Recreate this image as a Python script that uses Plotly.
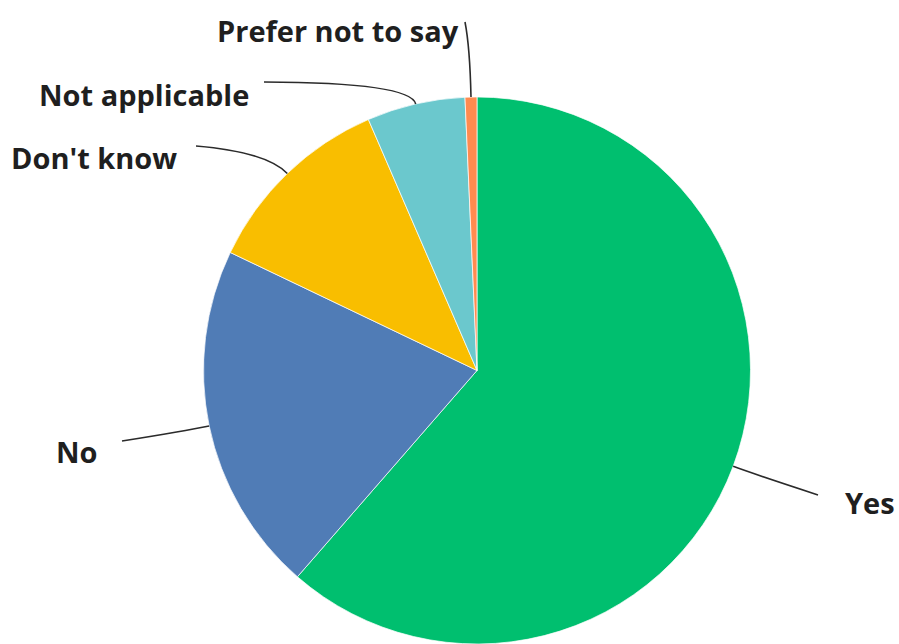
import math
import plotly.graph_objects as go

# Survey responses (percent of respondents)
categories = ["Yes", "No", "Don't know", "Not applicable", "Prefer not to say"]
shares = [61.4, 20.7, 11.4, 5.8, 0.7]
colors = ["#00BF6F", "#507CB6", "#F9BE00", "#6BC8CD", "#FF8B4F"]

W, H = 899, 644
dom_x = [0.2258, 0.8354]
dom_y = [0.0, 0.8494]

# label anchor points (px) and leader-line shape
label_pos = {
    "Yes": dict(x=843, y=503, anchor="left", end=(818, 495), bend=20),
    "No": dict(x=54, y=451, anchor="left", end=(122, 441), bend=25),
    "Don't know": dict(x=9, y=157, anchor="left", end=(196, 146), bend=30),
    "Not applicable": dict(x=37, y=95, anchor="left", end=(264, 82), bend=22),
    "Prefer not to say": dict(x=461, y=30, anchor="right", end=(465, 22), bend=50),
}

fig = go.Figure(
    go.Pie(
        labels=categories,
        values=shares,
        sort=False,
        direction="clockwise",
        rotation=0,
        marker=dict(colors=colors, line=dict(color="rgba(255,255,255,0.7)", width=1)),
        textinfo="none",
        hoverinfo="label+percent",
        domain=dict(x=dom_x, y=dom_y),
        showlegend=False,
    )
)

# pie geometry in pixels (zero margins)
r = min(W * (dom_x[1] - dom_x[0]), H * (dom_y[1] - dom_y[0])) / 2
cx = W * (dom_x[0] + dom_x[1]) / 2
cy = H * (1 - (dom_y[0] + dom_y[1]) / 2)


def to_paper(p):
    return p[0] / W, 1 - p[1] / H


total = sum(shares)
start = 0.0
shapes, annotations = [], []
for name, v in zip(categories, shares):
    mid = (start + v / 2) / total * 2 * math.pi  # clockwise from 12 o'clock
    start += v
    ux, uy = math.sin(mid), -math.cos(mid)
    p0 = (cx + r * ux, cy + r * uy)
    lp = label_pos[name]
    p1 = (p0[0] + lp["bend"] * ux, p0[1] + lp["bend"] * uy)
    p2 = lp["end"]

    a, b, c = to_paper(p0), to_paper(p1), to_paper(p2)
    shapes.append(dict(
        type="path", xref="paper", yref="paper",
        path=f"M {a[0]},{a[1]} Q {b[0]},{b[1]} {c[0]},{c[1]}",
        line=dict(color="#2b2b2b", width=1.6),
    ))
    annotations.append(dict(
        x=lp["x"] / W, y=1 - lp["y"] / H, xref="paper", yref="paper",
        xanchor=lp["anchor"], yanchor="middle", showarrow=False,
        text=name,
        font=dict(family="Open Sans", size=29, color="#1f1f1f", weight=700),
    ))

fig.update_layout(
    width=W, height=H,
    margin=dict(l=0, r=0, t=0, b=0),
    paper_bgcolor="white",
    plot_bgcolor="white",
    shapes=shapes,
    annotations=annotations,
)

fig.write_html("out.html")
